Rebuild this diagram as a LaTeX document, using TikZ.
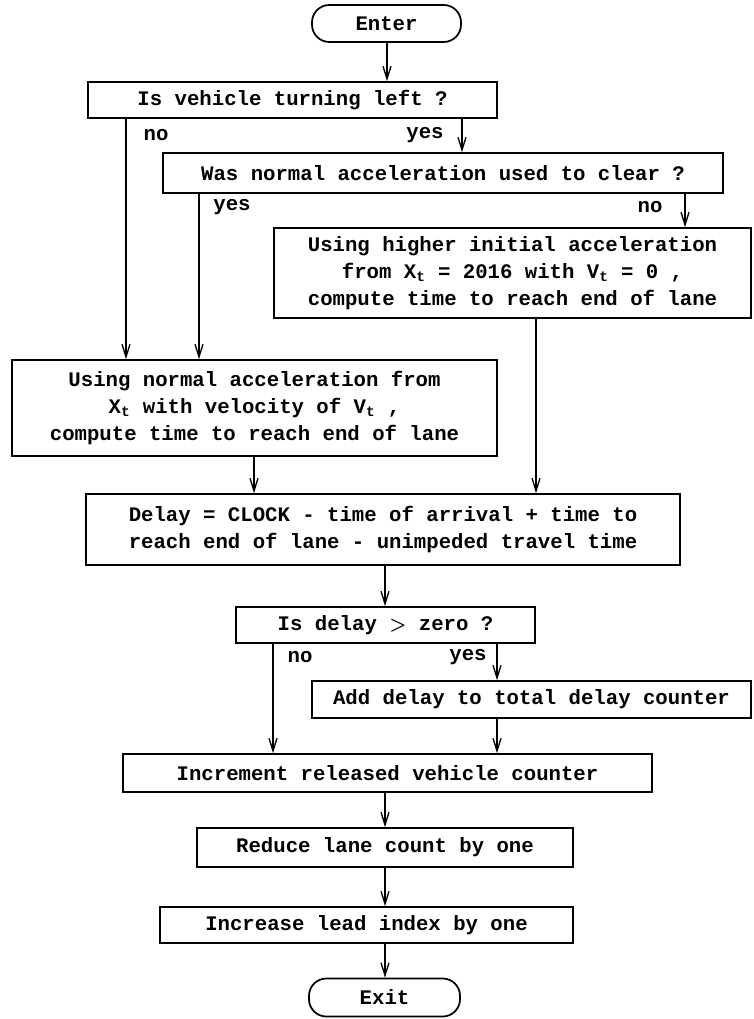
\documentclass[tikz,border=0pt]{standalone}
\usepackage{fontspec}
\setmonofont{Liberation Mono}
\usetikzlibrary{arrows.meta}
\begin{document}
\begin{tikzpicture}[x=.75pt,y=-.75pt,line width=1pt,font={\ttfamily\bfseries\fontsize{15.5}{20.25}\selectfont},
  box/.style={draw,line width=1.3pt,inner sep=0pt,align=center},
  term/.style={box,rounded corners=13pt},
  arr/.style={-{Straight Barb[length=9.5pt,width=6pt]}}]
\useasboundingbox(0,0)rectangle(753,1019);
% boxes
\node[term,minimum width=111.75pt,minimum height=27.75pt](enter)at(386.5,23.5){Enter};
\node[box,minimum width=306.75pt,minimum height=27pt](q1)at(292.5,100){Is vehicle turning left ?};
\node[box,minimum width=420pt,minimum height=30pt](q2)at(443,173){Was normal acceleration used to clear ?};
\node[box,minimum width=357.75pt,minimum height=67.5pt](hi)at(512.5,273){Using higher initial acceleration\\from X\textsubscript{t} = 2016 with V\textsubscript{t} = 0 ,\\compute time to reach end of lane};
\node[box,minimum width=363.75pt,minimum height=72pt](norm)at(254.5,408){Using normal acceleration from\\X\textsubscript{t} with velocity of V\textsubscript{t} ,\\compute time to reach end of lane};
\node[box,align=left,minimum width=445.5pt,minimum height=53.25pt](delay)at(383,529.5){Delay = CLOCK - time of arrival + time to\\reach end of lane - unimpeded travel time};
\node[box,minimum width=224.25pt,minimum height=27pt](q3)at(385.5,625){Is delay {\boldmath\Large$>$} zero ?};
\node[box,minimum width=329.25pt,minimum height=27.75pt](add)at(531.5,699.5){Add delay to total delay counter};
\node[box,minimum width=396.75pt,minimum height=28.5pt](incr)at(387.5,773){Increment released vehicle counter};
\node[box,minimum width=282pt,minimum height=29.25pt](reduce)at(385,847.5){Reduce lane count by one};
\node[box,minimum width=309.75pt,minimum height=27pt](lead)at(366.5,925){Increase lead index by one};
\node[term,minimum width=113.25pt,minimum height=28.5pt](exit)at(384.5,997.5){Exit};
% branch labels
\node(n1)at(156,135){no};\node(y1)at(425,135){yes};
\node(y2)at(232,207){yes};\node(n2)at(650,207){no};
\node(n3)at(300,657){no};\node(y3)at(468,657){yes};
% connectors
\draw[arr](387,0|-enter.south)--(387,0|-q1.north);
\draw[arr](126,0|-q1.south)--(126,0|-norm.north);
\draw[arr](462,0|-q1.south)--(462,0|-q2.north);
\draw[arr](199,0|-q2.south)--(199,0|-norm.north);
\draw[arr](685,0|-q2.south)--(685,0|-hi.north);
\draw[arr](536,0|-hi.south)--(536,0|-delay.north);
\draw[arr](254,0|-norm.south)--(254,0|-delay.north);
\draw[arr](385,0|-delay.south)--(385,0|-q3.north);
\draw[arr](273,0|-q3.south)--(273,0|-incr.north);
\draw[arr](497,0|-q3.south)--(497,0|-add.north);
\draw[arr](497,0|-add.south)--(497,0|-incr.north);
\foreach \a/\b in {incr/reduce,reduce/lead,lead/exit}\draw[arr](385,0|-\a.south)--(385,0|-\b.north);
\end{tikzpicture}
\end{document}
